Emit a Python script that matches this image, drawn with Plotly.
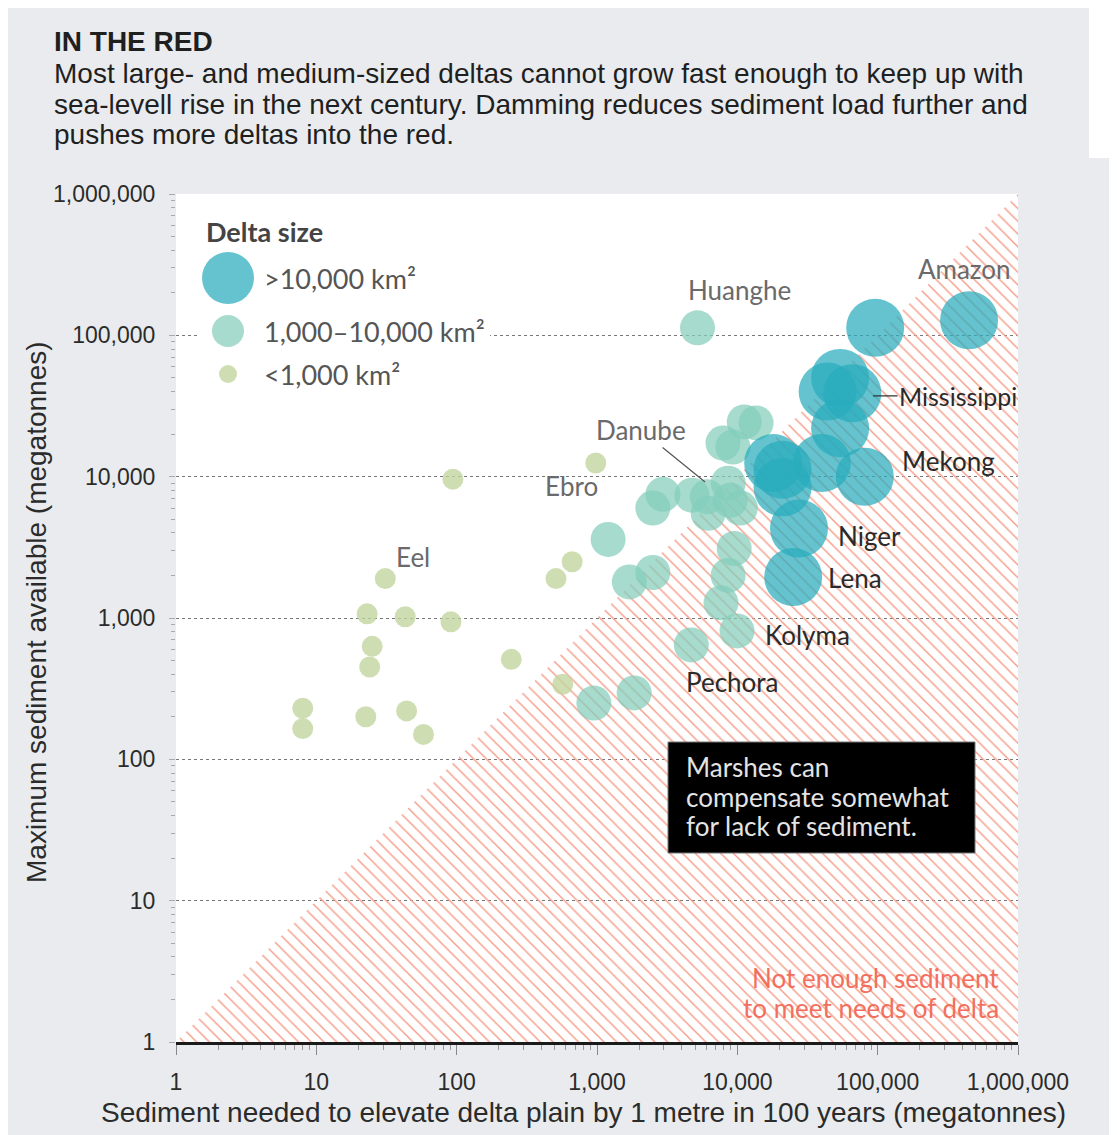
import math
import plotly.graph_objects as go

# ---------------- data (megatonnes) ----------------
small_x = [94, 980, 31, 23, 43, 91, 25, 24, 245, 510, 665, 570, 8, 8, 22.5, 44, 58]
small_y = [9600, 12500, 1900, 1070, 1020, 940, 630, 450, 510, 1900, 2500, 340, 230, 165, 200, 220, 150]

medium_x = [5200, 11200, 13600, 7900, 9300, 2950, 2500, 4750, 6100, 8600, 8900, 6200, 10500,
            1200, 1700, 2500, 9500, 8600, 7650, 9950, 4700, 950, 1840]
medium_y = [113000, 24400, 24000, 17300, 16200, 7500, 6000, 7400, 7200, 9000, 6800, 5500, 6000,
            3600, 1800, 2100, 3100, 2000, 1280, 810, 645, 250, 295]

large_x = [448000, 96000, 54000, 44000, 66000, 54000, 40000, 81000, 18000, 21000, 21000, 27500, 25000]
large_y = [128000, 113000, 50000, 40000, 39000, 22000, 12500, 10000, 12500, 11200, 8400, 4300, 1950]

# region where sediment available < sediment needed (below y = x)
deficit_x = [1, 1000000, 1000000, 1]
deficit_y = [1, 1000000, 1, 1]

tick_vals = [1, 10, 100, 1000, 10000, 100000, 1000000]
tick_text = ["1", "10", "100", "1,000", "10,000", "100,000", "1,000,000"]
minor_vals = [m * 10 ** k for k in range(6) for m in range(2, 10)]

# delta labels: name, x, y, anchor, colour
label_names = ["Huanghe", "Amazon", "Mekong", "Niger", "Lena", "Kolyma", "Pechora", "Ebro", "Eel"]
label_x = [10280, 418800, 144200, 50470, 42850, 15240, 4169, 653, 48.9]
label_y = [209400, 295100, 12910, 3800, 1919, 759, 352, 8590, 2704]
label_anchor = ["center", "center", "left", "left", "left", "left", "left", "center", "center"]
label_grey = [True, True, False, False, False, False, False, True, True]

# labels with leader lines: name, point x, point y, text offset (px)
leader_names = ["Mississippi", "Danube"]
leader_x = [92680, 5890]
leader_y = [37240, 9160]
leader_off = [(85, 0), (-64, -52)]

legend_labels = [">10,000 km²", "1,000–10,000 km²", "<1,000 km²"]

# ---------------- styles ----------------
C_LARGE = "rgba(40,172,189,0.72)"
C_MED = "rgba(132,205,187,0.72)"
C_SMALL = "rgba(194,213,156,0.78)"
GREY_BG = "#e9ebee"
LABEL_FONT = "Lato"

fig = go.Figure()

fig.add_trace(go.Scatter(
    x=deficit_x, y=deficit_y, mode="lines", fill="toself",
    line=dict(width=0, color="rgba(0,0,0,0)"),
    fillcolor="rgba(0,0,0,0)",
    fillpattern=dict(shape="\\", fgcolor="#f5a08e", bgcolor="rgba(255,255,255,0)",
                     size=9, solidity=0.17, fillmode="replace"),
    hoverinfo="skip", showlegend=False))

for xs, ys, col, sz in [(small_x, small_y, C_SMALL, 21),
                        (medium_x, medium_y, C_MED, 35),
                        (large_x, large_y, C_LARGE, 58)]:
    fig.add_trace(go.Scatter(
        x=xs, y=ys, mode="markers",
        marker=dict(size=sz, color=col, line=dict(width=0)),
        showlegend=False, hoverinfo="x+y"))

# ---------------- layout geometry (reference page pixels) ----------------
W, H = 1117, 1135
OFF = 8                      # page body margin
X0, X1, Y0, Y1 = 176, 1018, 194, 1042   # plot rect in page pixels
L, T = X0 - OFF, Y0 - OFF
R, B = W - (X1 - OFF), H - (Y1 - OFF)


def px(x):
    return (x - X0) / (X1 - X0)


def py(y):
    return (Y1 - y) / (Y1 - Y0)


shapes = []
# white corner to the right of the grey header card
shapes.append(dict(type="rect", xref="paper", yref="paper", x0=px(1089), x1=px(W + 20), y0=py(158), y1=py(-20),
                   fillcolor="white", line=dict(width=0), layer="below"))
# white legend panel that interrupts the gridline
shapes.append(dict(type="rect", xref="paper", yref="paper", x0=px(200), x1=px(490), y0=py(392), y1=py(205),
                   fillcolor="white", line=dict(width=0), layer="above"))
# legend circles
for (cy, d, col) in [(278, 52, C_LARGE), (331, 32, C_MED), (374, 18, C_SMALL)]:
    shapes.append(dict(type="circle", xref="paper", yref="paper", xsizemode="pixel", ysizemode="pixel",
                       xanchor=px(228), yanchor=py(cy), x0=-d / 2, x1=d / 2, y0=-d / 2, y1=d / 2,
                       fillcolor=col, line=dict(width=0), layer="above"))
# black marshes note box
shapes.append(dict(type="rect", xref="paper", yref="paper", x0=px(668), x1=px(975), y0=py(853), y1=py(742),
                   fillcolor="black", line=dict(width=1, color="#777"), layer="above"))

ann = []


def text_at(txt, x, y, size, color, family, xanchor="left", **kw):
    ann.append(dict(text=txt, xref="paper", yref="paper", x=px(x), y=py(y),
                    xanchor=xanchor, yanchor="middle", showarrow=False,
                    font=dict(family=family, size=size, color=color), **kw))


# header
text_at("<b>IN THE RED</b>", 52, 42, 28, "#1f1f1f", "Liberation Sans")
for txt, yy in [("Most large- and medium-sized deltas cannot grow fast enough to keep up with", 74),
                ("sea-levell rise in the next century. Damming reduces sediment load further and", 104),
                ("pushes more deltas into the red.", 134)]:
    text_at(txt, 52, yy, 28, "#1f1f1f", "Liberation Sans")
# axis titles
text_at("Maximum sediment available (megatonnes)", 36, 612, 28, "#2b2b2b", "Liberation Sans",
        xanchor="center", textangle=-90)
text_at("Sediment needed to elevate delta plain by 1 metre in 100 years (megatonnes)", 583, 1112, 28,
        "#2b2b2b", "Liberation Sans", xanchor="center")
# legend texts
text_at("<b>Delta size</b>", 204, 231, 27, "#444", LABEL_FONT)
for txt, yy in zip(legend_labels, [278, 331, 374]):
    text_at(txt, 262, yy, 27, "#555", LABEL_FONT)
# notes
for txt, yy in [("Marshes can", 767), ("compensate somewhat", 797), ("for lack of sediment.", 826)]:
    text_at(txt, 684, yy, 26, "#e4e4e4", LABEL_FONT)
for txt, yy in [("Not enough sediment", 978), ("to meet needs of delta", 1008)]:
    text_at(txt, 1001, yy, 26, "#f26f5e", LABEL_FONT, xanchor="right")

# delta labels
for name, lx, ly, anc, grey in zip(label_names, label_x, label_y, label_anchor, label_grey):
    ann.append(dict(text=name, x=math.log10(lx), y=math.log10(ly), xref="x", yref="y",
                    xanchor=anc, yanchor="middle", showarrow=False,
                    font=dict(family=LABEL_FONT, size=26, color="#6a6a6a" if grey else "#2a2a2a")))
for name, lx, ly, (ax, ay) in zip(leader_names, leader_x, leader_y, leader_off):
    grey = name == "Danube"
    ann.append(dict(text=name, x=math.log10(lx), y=math.log10(ly), xref="x", yref="y",
                    ax=ax, ay=ay, showarrow=True, arrowhead=0, arrowwidth=1.2,
                    arrowcolor="#555" if grey else "#333",
                    font=dict(family=LABEL_FONT, size=26 if grey else 25,
                              color="#6a6a6a" if grey else "#2a2a2a")))

fig.update_layout(
    width=W, height=H,
    margin=dict(l=L, r=R, t=T, b=B),
    paper_bgcolor=GREY_BG, plot_bgcolor="white",
    shapes=shapes, annotations=ann,
    showlegend=False,
    xaxis=dict(type="log", range=[0, 6], tickmode="array", tickvals=tick_vals, ticktext=tick_text,
               showgrid=False, zeroline=False, showline=True, linecolor="#1a1a1a", linewidth=3,
               ticks="outside", ticklen=10, tickcolor="#888", tickwidth=1,
               ticklabelstandoff=7,
               tickfont=dict(family="Liberation Sans", size=23, color="#2b2b2b"),
               minor=dict(tickmode="array", tickvals=minor_vals, ticks="outside", ticklen=5,
                          tickcolor="#999", showgrid=False)),
    yaxis=dict(type="log", range=[0, 6], tickmode="array", tickvals=tick_vals, ticktext=tick_text,
               showgrid=True, gridcolor="#777", griddash="dot", gridwidth=1,
               zeroline=False, showline=False,
               ticks="outside", ticklen=6, tickcolor="#aaa", tickwidth=1,
               ticklabelstandoff=9,
               tickfont=dict(family="Liberation Sans", size=23, color="#2b2b2b"),
               minor=dict(tickmode="array", tickvals=minor_vals, ticks="outside", ticklen=4,
                          tickcolor="#aaa", showgrid=False)),
)

fig.write_html("out.html")
